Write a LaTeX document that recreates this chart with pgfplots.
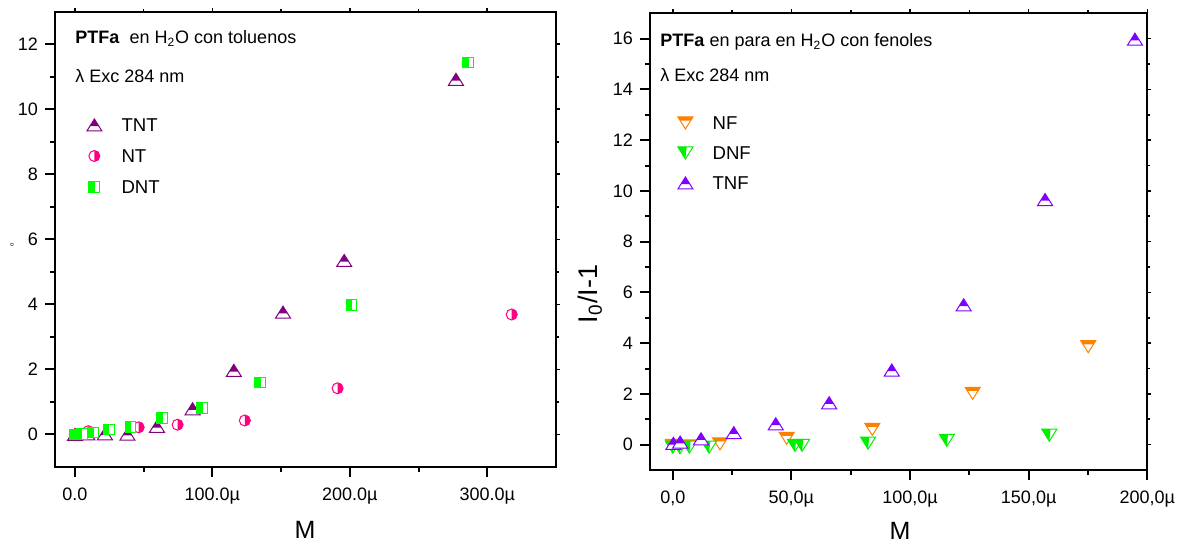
\documentclass[border=0pt]{standalone}
\usepackage{pgfplots}
\pgfplotsset{compat=1.18}
\usepackage{fontspec}
\setmainfont{Liberation Sans}

\definecolor{tntcol}{RGB}{128,0,128}
\definecolor{ntcol}{RGB}{255,0,128}
\definecolor{dntcol}{RGB}{0,255,0}
\definecolor{nfcol}{RGB}{255,128,0}
\definecolor{dnfcol}{RGB}{0,240,0}
\definecolor{tnfcol}{RGB}{128,0,255}

% half-filled marks
\pgfdeclareplotmark{tritop}{%
 \begin{pgfscope}\pgfsetfillcolor{white}%
 \pgfpathmoveto{\pgfqpoint{0pt}{3pt}}\pgfpathlineto{\pgfqpoint{-3.75pt}{-3pt}}\pgfpathlineto{\pgfqpoint{3.75pt}{-3pt}}\pgfpathclose\pgfusepathqfill
 \end{pgfscope}%
 \pgfpathmoveto{\pgfqpoint{0pt}{3pt}}\pgfpathlineto{\pgfqpoint{-2.25pt}{-0.6pt}}\pgfpathlineto{\pgfqpoint{2.25pt}{-0.6pt}}\pgfpathclose\pgfusepathqfill
 \pgfpathmoveto{\pgfqpoint{0pt}{3pt}}\pgfpathlineto{\pgfqpoint{-3.75pt}{-3pt}}\pgfpathlineto{\pgfqpoint{3.75pt}{-3pt}}\pgfpathclose\pgfusepathqstroke
}
\pgfdeclareplotmark{circright}{%
 \begin{pgfscope}\pgfsetfillcolor{white}\pgfpathcircle{\pgfpointorigin}{2.75pt}\pgfusepathqfill\end{pgfscope}%
 \pgfpathmoveto{\pgfqpoint{0pt}{2.75pt}}\pgfpatharc{90}{-90}{2.75pt}\pgfpathclose\pgfusepathqfill
 \pgfpathcircle{\pgfpointorigin}{2.75pt}\pgfusepathqstroke
}
\pgfdeclareplotmark{sqleft}{%
 \begin{pgfscope}\pgfsetfillcolor{white}\pgfpathrectangle{\pgfqpoint{-2.7pt}{-2.7pt}}{\pgfqpoint{5.4pt}{5.4pt}}\pgfusepathqfill\end{pgfscope}%
 \pgfpathrectangle{\pgfqpoint{-2.7pt}{-2.7pt}}{\pgfqpoint{3pt}{5.4pt}}\pgfusepathqfill
 \pgfpathrectangle{\pgfqpoint{-2.7pt}{-2.7pt}}{\pgfqpoint{5.4pt}{5.4pt}}\pgfusepathqstroke
}
\pgfdeclareplotmark{tridowntop}{%
 \begin{pgfscope}\pgfsetfillcolor{white}%
 \pgfpathmoveto{\pgfqpoint{0pt}{-3pt}}\pgfpathlineto{\pgfqpoint{-3.75pt}{3pt}}\pgfpathlineto{\pgfqpoint{3.75pt}{3pt}}\pgfpathclose\pgfusepathqfill
 \end{pgfscope}%
 \pgfpathmoveto{\pgfqpoint{-3.75pt}{3pt}}\pgfpathlineto{\pgfqpoint{3.75pt}{3pt}}\pgfpathlineto{\pgfqpoint{2.625pt}{1.2pt}}\pgfpathlineto{\pgfqpoint{-2.625pt}{1.2pt}}\pgfpathclose\pgfusepathqfill
 \pgfpathmoveto{\pgfqpoint{0pt}{-3pt}}\pgfpathlineto{\pgfqpoint{-3.75pt}{3pt}}\pgfpathlineto{\pgfqpoint{3.75pt}{3pt}}\pgfpathclose\pgfusepathqstroke
}
\pgfdeclareplotmark{tridownleft}{%
 \begin{pgfscope}\pgfsetfillcolor{white}%
 \pgfpathmoveto{\pgfqpoint{0pt}{-3pt}}\pgfpathlineto{\pgfqpoint{-3.75pt}{3pt}}\pgfpathlineto{\pgfqpoint{3.75pt}{3pt}}\pgfpathclose\pgfusepathqfill
 \end{pgfscope}%
 \pgfpathmoveto{\pgfqpoint{0pt}{-3pt}}\pgfpathlineto{\pgfqpoint{-3.75pt}{3pt}}\pgfpathlineto{\pgfqpoint{0.6pt}{3pt}}\pgfpathclose\pgfusepathqfill
 \pgfpathmoveto{\pgfqpoint{0pt}{-3pt}}\pgfpathlineto{\pgfqpoint{-3.75pt}{3pt}}\pgfpathlineto{\pgfqpoint{3.75pt}{3pt}}\pgfpathclose\pgfusepathqstroke
}

\pgfplotsset{
  mymarks/.style={only marks, mark options={line width=0.5pt, fill=#1, draw=#1}, color=#1,
    legend image code/.code={\path (0cm,0cm) (0.6cm,0cm); \draw[##1] plot coordinates {(0.2cm,0cm)};}},
  panel/.style={
    scale only axis, anchor=south west,
    axis line style={line width=1pt},
    tick style={line width=1pt, black},
    tick align=outside,
    major tick length=5pt, minor tick length=2.5pt,
    xtick pos=bottom, ytick pos=left,
    minor tick num=1,
    /pgf/number format/assume math mode=true,
    tick label style={font=\fontsize{9}{10}\selectfont},
    xticklabel style={yshift=-2pt},
    legend cell align=left,
    legend style={draw=none, fill=none, inner sep=0pt, outer sep=0pt, anchor=north west,
      font=\fontsize{9.3}{11}\selectfont,
      nodes={inner sep=2pt, text height=7pt, text depth=0pt}},
  },
  mirror/.style={
    scale only axis, anchor=south west,
    axis x line*=top, axis y line*=right,
    axis line style={line width=1pt, -},
    tick style={line width=0.8pt, black},
    tick align=outside,
    major tick length=2pt, minor tick length=1.5pt,
    minor tick num=1,
    xticklabels={}, yticklabels={},
  },
}

\begin{document}
\begin{tikzpicture}
\useasboundingbox (0,0) rectangle (590.5pt,272pt);

% ---------------- Left panel ----------------
\begin{axis}[panel,
  at={(27.5pt,38.5pt)}, width=250.5pt, height=227.65pt,
  xmin=-14.5, xmax=350, ymin=-1, ymax=13,
  xtick={0,100,200,300}, xticklabels={0.0,100.0µ,200.0µ,300.0µ},
  ytick={0,2,4,6,8,10,12},
  legend style={at={(0.0551,0.7753)}, row sep=4.5pt},
]
\addplot[mymarks=tntcol, mark=tritop] coordinates {
 (0,0) (9,0.02) (21.8,0.02) (38.2,0.01) (59.7,0.25) (85.6,0.79) (115.6,1.97) (151.4,3.76) (195.9,5.35) (277.2,10.92)};
\addlegendentry{TNT}
\addplot[mymarks=ntcol, mark=circright] coordinates {
 (0,0) (9.7,0.1) (46.4,0.22) (74.7,0.3) (123.6,0.43) (191.1,1.42) (317.8,3.69)};
\addlegendentry{NT}
\addplot[mymarks=dntcol, mark=sqleft] coordinates {
 (0,0) (2.5,0) (5,0.01) (13.3,0.06) (24.7,0.15) (40.4,0.24) (63.4,0.5) (92.4,0.82) (134.8,1.6) (201.2,3.97) (285.9,11.44)};
\addlegendentry{DNT}
\end{axis}
\begin{axis}[mirror,
  at={(27.5pt,38.5pt)}, width=250.5pt, height=227.65pt,
  xmin=-14.5, xmax=350, ymin=-1, ymax=13,
  xtick={0,100,200,300}, ytick={0,2,4,6,8,10,12}]
\end{axis}

% ---------------- Right panel ----------------
\begin{axis}[panel,
  at={(325pt,37pt)}, width=248.65pt, height=228.35pt,
  xmin=-9.6, xmax=200, ymin=-1, ymax=17,
  xtick={0,50,100,150,200}, xticklabels={{0,0},{50,0µ},{100,0µ},{150,0µ},{200,0µ}},
  ytick={0,2,4,6,8,10,12,14,16},
  legend style={at={(0.0475,0.7839)}, row sep=4pt},
]
\addplot[mymarks=nfcol, mark=tridowntop] coordinates {
 (0,-0.03) (3,-0.1) (7,-0.05) (19.9,0.03) (48,0.25) (84.1,0.6) (126.4,2.02) (175.1,3.86)};
\addlegendentry{NF}
\addplot[mymarks=dnfcol, mark=tridownleft] coordinates {
 (0,-0.1) (3,-0.12) (7,-0.1) (15.3,-0.1) (51.5,-0.03) (54.5,-0.03) (82.3,0.06) (115.5,0.17) (158.7,0.37)};
\addlegendentry{DNF}
\addplot[mymarks=tnfcol, mark=tritop] coordinates {
 (0.25,0.05) (3.1,0.1) (11.9,0.23) (25.7,0.47) (43.4,0.82) (65.9,1.65) (92.3,2.94) (122.6,5.51) (156.9,9.66) (194.8,15.98)};
\addlegendentry{TNF}
\end{axis}
\begin{axis}[mirror,
  at={(325pt,37pt)}, width=248.65pt, height=228.35pt,
  xmin=-9.6, xmax=200, ymin=-1, ymax=17,
  xtick={0,50,100,150,200}, ytick={0,2,4,6,8,10,12,14,16}]
\end{axis}

% ---------------- Texts ----------------
\node[anchor=base west, inner sep=0pt, font=\fontsize{9}{10}\selectfont] at (37.5pt,250pt) {\textbf{PTFa}\ \ en H\textsubscript{2}O con toluenos};
\node[anchor=base west, inner sep=0pt, font=\fontsize{9}{10}\selectfont] at (37.5pt,230.5pt) {λ Exc 284 nm};
\node[anchor=base west, inner sep=0pt, font=\fontsize{9}{10}\selectfont] at (330pt,248.5pt) {\textbf{PTFa} en para en H\textsubscript{2}O con fenoles};
\node[anchor=base west, inner sep=0pt, font=\fontsize{9}{10}\selectfont] at (330pt,231pt) {λ Exc 284 nm};

\node[font=\fontsize{12.5}{14}\selectfont, inner sep=0pt] at (152.5pt,7pt) {M};
\node[font=\fontsize{12.5}{14}\selectfont, inner sep=0pt] at (450pt,6.5pt) {M};
\node[font=\fontsize{13.5}{15}\selectfont, inner sep=0pt, rotate=90] at (295pt,125pt) {I\textsubscript{0}/I-1};
\node[font=\fontsize{3}{3}\selectfont, inner sep=0pt, rotate=90] at (6pt,149.5pt) {o};
\end{tikzpicture}
\end{document}
